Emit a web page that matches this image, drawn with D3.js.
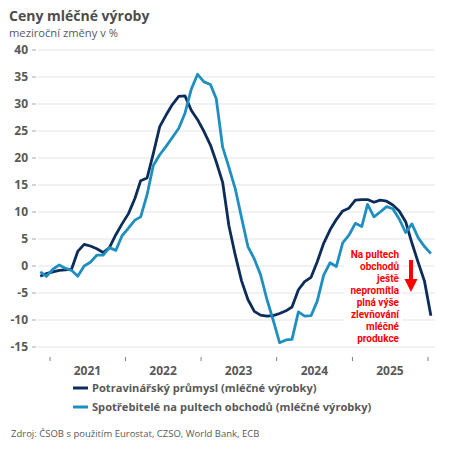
<!DOCTYPE html>
<html>
<head>
<meta charset="utf-8">
<script src="https://cdn.jsdelivr.net/npm/d3@7"></script>
<style>
  body { margin: 0; background: #fff; }
  svg { font-family: "Open Sans", "Noto Sans", sans-serif; }
</style>
</head>
<body>
<script>
// měsíce: listopad 2020 .. leden 2026
var months = d3.timeMonth.range(new Date(2020, 10, 1), new Date(2026, 1, 1));
var years = ["2021", "2022", "2023", "2024", "2025"];
var yTicks = [40, 35, 30, 25, 20, 15, 10, 5, 0, -5, -10, -15];

var prumysl = [-1.9, -1.4,
  -1.1, -0.8, -0.7, -0.6, 2.7, 4.0, 3.7, 3.2, 2.5, 3.4, 5.8, 7.8,
  9.7, 12.5, 15.8, 16.3, 20.8, 25.8, 27.9, 29.9, 31.4, 31.5, 28.8, 27.1,
  24.9, 22.4, 19.3, 15.5, 7.5, 2.0, -2.7, -6.2, -8.4, -9.1, -9.3, -9.2,
  -8.8, -8.3, -7.6, -4.4, -2.9, -2.1, 0.8, 4.2, 6.7, 8.6, 10.2, 10.7,
  12.2, 12.3, 12.3, 11.8, 12.2, 12.0, 11.3, 10.2, 8.2, 4.3, 0.6, -2.8,
  -9.2];
var spotrebitele = [-1.1, -1.9,
  -0.6, 0.2, -0.4, -0.8, -1.9, 0.0, 0.7, 2.0, 2.0, 3.4, 2.9, 5.6,
  7.0, 8.5, 9.1, 13.2, 18.6, 20.6, 22.1, 23.8, 25.5, 28.3, 32.8, 35.5,
  34.1, 33.6, 31.0, 22.0, 18.3, 14.3, 9.0, 3.6, 1.3, -1.6, -6.2, -10.0,
  -14.2, -13.7, -13.6, -8.5, -9.3, -9.2, -6.5, -1.7, 0.6, -0.1, 4.3, 5.7,
  7.9, 7.3, 11.4, 9.1, 10.0, 11.0, 10.6, 8.7, 6.2, 7.8, 5.2, 3.6,
  2.3];

var seriesNames = ["Potravinářský průmysl (mléčné výrobky)", "Spotřebitelé na pultech obchodů (mléčné výrobky)"];
var seriesColors = ["#0c2c5a", "#1f8fc2"];
var noteLines = ["Na pultech", "obchodů", "ještě", "nepromítla", "plná výše", "zlevňování", "mléčné", "produkce"];

var width = 450, height = 450;
var textCol = "#595959";

var svg = d3.select("body").append("svg")
    .attr("width", width)
    .attr("height", height);

var x = d3.scaleTime()
    .domain([new Date(2021, 0, 1), new Date(2026, 0, 1)])
    .range([50, 428]);
var y = d3.scaleLinear()
    .domain([-15, 40])
    .range([347, 50]);

// titulek
svg.append("text").attr("x", 9).attr("y", 21)
    .attr("font-size", 14).attr("font-weight", "bold").attr("fill", "#4d4d4d")
    .text("Ceny mléčné výroby");
svg.append("text").attr("x", 9).attr("y", 37)
    .attr("font-size", 11.2).attr("fill", textCol)
    .text("meziroční změny v %");

// mřížka + osa y
var gy = svg.append("g");
gy.selectAll("line.grid").data(yTicks).enter().append("line")
    .attr("class", "grid")
    .attr("x1", 38).attr("x2", 435)
    .attr("y1", function(d) { return y(d); })
    .attr("y2", function(d) { return y(d); })
    .attr("stroke", "#e3e3e3").attr("stroke-width", 1);
gy.selectAll("line.tick").data(yTicks).enter().append("line")
    .attr("class", "tick")
    .attr("x1", 32).attr("x2", 36)
    .attr("y1", function(d) { return y(d); })
    .attr("y2", function(d) { return y(d); })
    .attr("stroke", "#a6a6a6");
gy.selectAll("text").data(yTicks).enter().append("text")
    .attr("x", 28)
    .attr("y", function(d) { return y(d); })
    .attr("dy", "0.35em")
    .attr("text-anchor", "end")
    .attr("font-size", 12).attr("font-weight", "bold").attr("fill", textCol)
    .text(function(d) { return d; });

// osa x
var yearStarts = d3.timeYear.range(new Date(2021, 0, 1), new Date(2026, 1, 1));
var gx = svg.append("g");
gx.selectAll("line").data(yearStarts).enter().append("line")
    .attr("x1", function(d) { return x(d); })
    .attr("x2", function(d) { return x(d); })
    .attr("y1", 357).attr("y2", 361)
    .attr("stroke", "#7f7f7f");
gx.selectAll("text").data(years).enter().append("text")
    .attr("x", function(d) { return x(new Date(+d, 6, 1)); })
    .attr("y", 375)
    .attr("text-anchor", "middle")
    .attr("font-size", 12).attr("font-weight", "bold").attr("fill", textCol)
    .text(function(d) { return d; });

// linie
var line = d3.line()
    .x(function(d, i) { return x(d3.timeDay.offset(months[i], 14)); })
    .y(function(d) { return y(d); });

[prumysl, spotrebitele].forEach(function(s, k) {
  svg.append("path")
      .datum(s)
      .attr("d", line)
      .attr("fill", "none")
      .attr("stroke", seriesColors[k])
      .attr("stroke-width", 2.8)
      .attr("stroke-linejoin", "round");
});

// poznámka
svg.append("rect").attr("x", 344).attr("y", 246).attr("width", 58).attr("height", 98)
    .attr("fill", "#fff");
svg.append("g").selectAll("text").data(noteLines).enter().append("text")
    .attr("x", 399)
    .attr("y", function(d, i) { return 258 + i * 12; })
    .attr("text-anchor", "end")
    .attr("font-family", "Roboto, sans-serif")
    .attr("font-size", 10).attr("font-weight", "bold").attr("fill", "#ff0000")
    .text(function(d) { return d; });
svg.append("line").attr("x1", 411).attr("x2", 411).attr("y1", 260).attr("y2", 280)
    .attr("stroke", "#ff0000").attr("stroke-width", 4);
svg.append("path").attr("d", "M404.5,279 L417.5,279 L411,292 Z").attr("fill", "#ff0000");

// legenda
var leg = svg.append("g").selectAll("g").data(seriesNames).enter().append("g")
    .attr("transform", function(d, i) { return "translate(0," + (388 + i * 19) + ")"; });
leg.append("line").attr("x1", 73).attr("x2", 88).attr("y1", 0).attr("y2", 0)
    .attr("stroke", function(d, i) { return seriesColors[i]; })
    .attr("stroke-width", 3);
leg.append("text").attr("x", 92).attr("dy", "0.35em")
    .attr("font-size", 11.1).attr("font-weight", "bold").attr("fill", textCol)
    .text(function(d) { return d; });

// zdroj
svg.append("text").attr("x", 11).attr("y", 437)
    .attr("font-size", 9.5).attr("fill", textCol)
    .text("Zdroj: ČSOB s použitím Eurostat, CZSO, World Bank, ECB");
</script>
</body>
</html>
